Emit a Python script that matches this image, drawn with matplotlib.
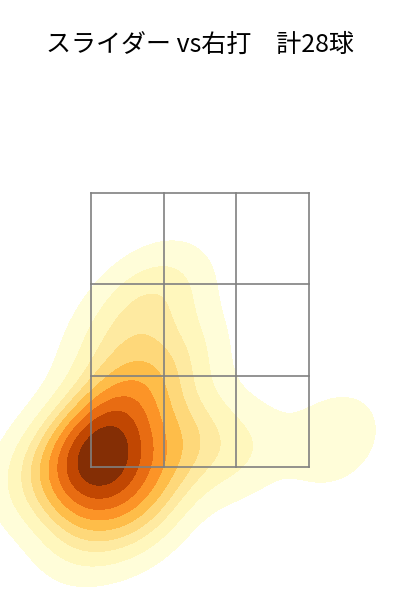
import matplotlib
matplotlib.use("Agg")
import matplotlib.pyplot as plt
import seaborn as sns
import numpy as np

# pitch locations (plate_x, plate_z in ft), 28 sliders vs RHB
px = [-0.80, -0.75, -0.70, -0.85, -0.65, -0.90, -0.60, -0.78, -0.95, -0.72, -0.55, -1.00, -0.70,
      -0.40, -0.70, -0.50, -0.25, -0.55, -0.15,
      -0.50, -0.85, -0.30, -0.20, -1.25, -0.40,
      1.02, 0.30, -0.05]
pz = [1.55, 1.65, 1.50, 1.40, 1.75, 1.70, 1.45, 1.85, 1.30, 1.30, 1.95, 1.60, 1.60,
      2.20, 2.35, 2.65, 2.80, 2.00, 2.30,
      1.10, 1.00, 1.50, 1.80, 1.45, 1.30,
      1.70, 1.60, 1.70]

zone_x = [-0.83, 0.83]
zone_z = [1.5, 3.5]

title = "スライダー vs右打　計28球"

plt.rcParams['font.family'] = ['Noto Sans CJK JP', 'DejaVu Sans']

fig = plt.figure(figsize=(4, 6), dpi=100)
ax = fig.add_axes([0, 0, 1, 0.9])

sns.kdeplot(x=px, y=pz, fill=True, cmap="YlOrBr", ax=ax)

# strike zone 3x3 grid
xs = np.linspace(zone_x[0], zone_x[1], 4)
zs = np.linspace(zone_z[0], zone_z[1], 4)
for x in xs:
    ax.plot([x, x], zone_z, color="gray", lw=1.2)
for z in zs:
    ax.plot(zone_x, [z, z], color="gray", lw=1.2)

ax.set_xlim(-1.523, 1.523)
ax.set_ylim(0.529, 4.471)
ax.axis("off")

fig.text(0.5, 0.925, title, ha="center", va="center", fontsize=18)

fig.savefig("out.png", dpi=100)
